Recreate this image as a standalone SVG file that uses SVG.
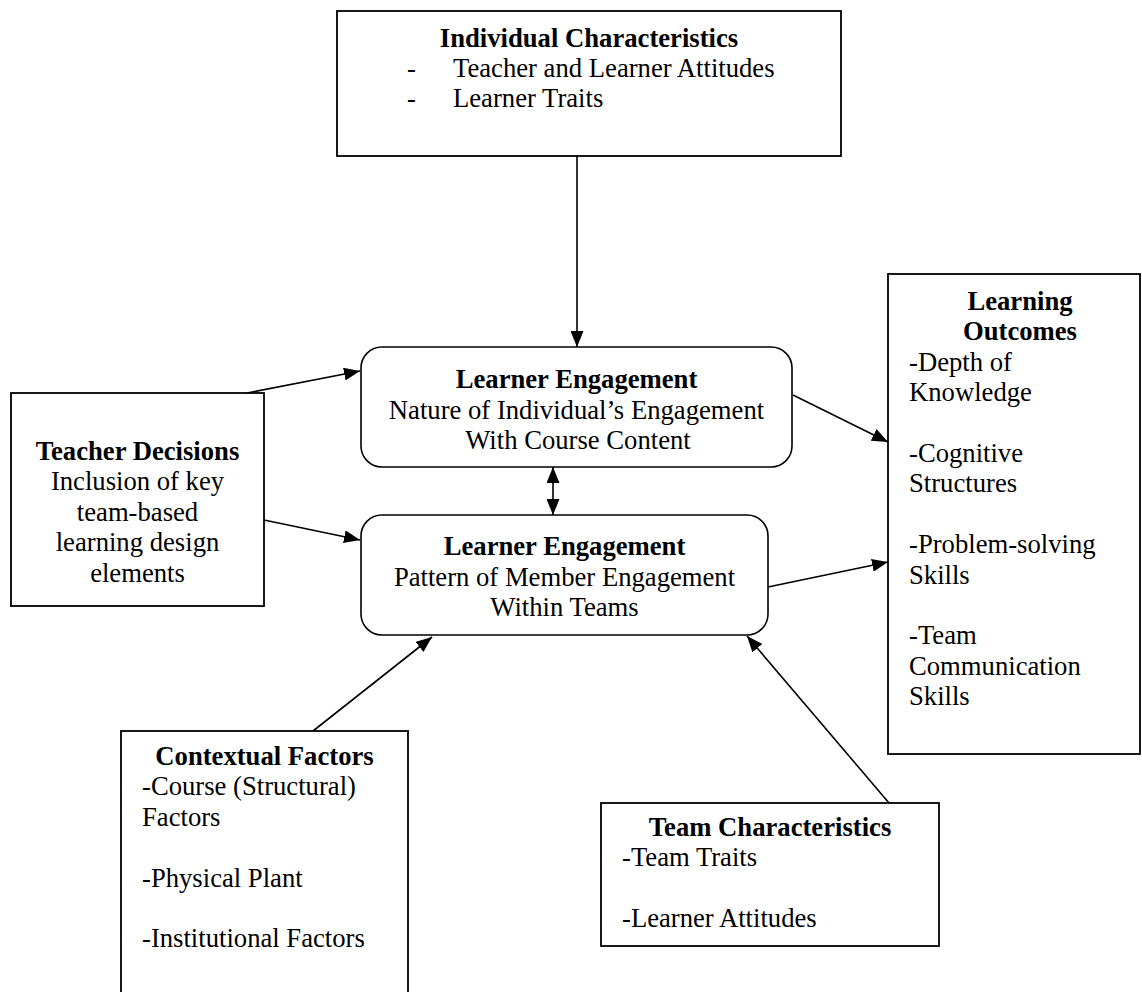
<svg xmlns="http://www.w3.org/2000/svg" width="1142" height="992" viewBox="0 0 1142 992">
<defs>
<style>
.box{fill:#fff;stroke:#000;stroke-width:1.8}
.rbox{fill:#fff;stroke:#000;stroke-width:1.6}
.t{font-family:"Liberation Serif","Times New Roman",serif;font-size:26.67px;fill:#000}
.b{font-weight:bold}
.c{text-anchor:middle}
.ln{stroke:#000;stroke-width:1.6;fill:none}
</style>
<marker id="ah" viewBox="0 0 16 13" refX="16" refY="6.5" markerWidth="16" markerHeight="13" markerUnits="userSpaceOnUse" orient="auto-start-reverse">
<path d="M0,0 L16,6.5 L0,13 z" fill="#000"/>
</marker>
</defs>
<rect width="1142" height="992" fill="#fff"/>

<g id="connectors">
<line class="ln" x1="577" y1="156" x2="577" y2="347" marker-end="url(#ah)"/>
<line class="ln" x1="247" y1="393" x2="360" y2="371" marker-end="url(#ah)"/>
<line class="ln" x1="264" y1="520" x2="360" y2="540" marker-end="url(#ah)"/>
<line class="ln" x1="793" y1="395" x2="888" y2="442" marker-end="url(#ah)"/>
<line class="ln" x1="768" y1="587" x2="888" y2="562" marker-end="url(#ah)"/>
<line class="ln" x1="313" y1="731" x2="432" y2="637" marker-end="url(#ah)"/>
<line class="ln" x1="889" y1="803" x2="747" y2="636" marker-end="url(#ah)"/>
<line class="ln" x1="553" y1="467" x2="553" y2="515" marker-start="url(#ah)" marker-end="url(#ah)"/>
</g>

<g id="individual-characteristics">
<rect class="box" x="337" y="11" width="504" height="145"/>
<text class="t b c" x="589" y="47">Individual Characteristics</text>
<text class="t" x="407" y="77">-</text>
<text class="t" x="453" y="77">Teacher and Learner Attitudes</text>
<text class="t" x="407" y="107">-</text>
<text class="t" x="453" y="107">Learner Traits</text>
</g>

<g id="learner-engagement-individual">
<rect class="rbox" x="361" y="347" width="431" height="120" rx="21" ry="21"/>
<text class="t b c" x="576.5" y="388">Learner Engagement</text>
<text class="t c" x="576.5" y="418.5">Nature of Individual’s Engagement</text>
<text class="t c" x="578" y="449">With Course Content</text>
</g>

<g id="learner-engagement-team">
<rect class="rbox" x="361" y="515" width="407" height="120" rx="21" ry="21"/>
<text class="t b c" x="564.5" y="555">Learner Engagement</text>
<text class="t c" x="564.5" y="585.5">Pattern of Member Engagement</text>
<text class="t c" x="564.5" y="616">Within Teams</text>
</g>

<g id="teacher-decisions">
<rect class="box" x="11" y="393" width="253" height="213"/>
<text class="t b c" x="137.5" y="460">Teacher Decisions</text>
<text class="t c" x="137.5" y="490.4">Inclusion of key</text>
<text class="t c" x="137.5" y="520.8">team-based</text>
<text class="t c" x="137.5" y="551.2">learning design</text>
<text class="t c" x="137.5" y="581.6">elements</text>
</g>

<g id="learning-outcomes">
<rect class="box" x="888" y="274" width="252" height="480"/>
<text class="t b c" x="1020" y="310">Learning</text>
<text class="t b c" x="1020" y="340.4">Outcomes</text>
<text class="t" x="909" y="370.8">-Depth of</text>
<text class="t" x="909" y="401.2">Knowledge</text>
<text class="t" x="909" y="462">-Cognitive</text>
<text class="t" x="909" y="492.4">Structures</text>
<text class="t" x="909" y="553.2">-Problem-solving</text>
<text class="t" x="909" y="583.6">Skills</text>
<text class="t" x="909" y="644.4">-Team</text>
<text class="t" x="909" y="674.8">Communication</text>
<text class="t" x="909" y="705.2">Skills</text>
</g>

<g id="contextual-factors">
<rect class="box" x="121" y="731" width="287" height="280"/>
<text class="t b c" x="264.5" y="765">Contextual Factors</text>
<text class="t" x="142" y="795.4">-Course (Structural)</text>
<text class="t" x="142" y="825.8">Factors</text>
<text class="t" x="142" y="886.6">-Physical Plant</text>
<text class="t" x="142" y="947.4">-Institutional Factors</text>
</g>

<g id="team-characteristics">
<rect class="box" x="601" y="803" width="338" height="143"/>
<text class="t b c" x="770" y="836">Team Characteristics</text>
<text class="t" x="622" y="866.4">-Team Traits</text>
<text class="t" x="622" y="927.2">-Learner Attitudes</text>
</g>
</svg>
